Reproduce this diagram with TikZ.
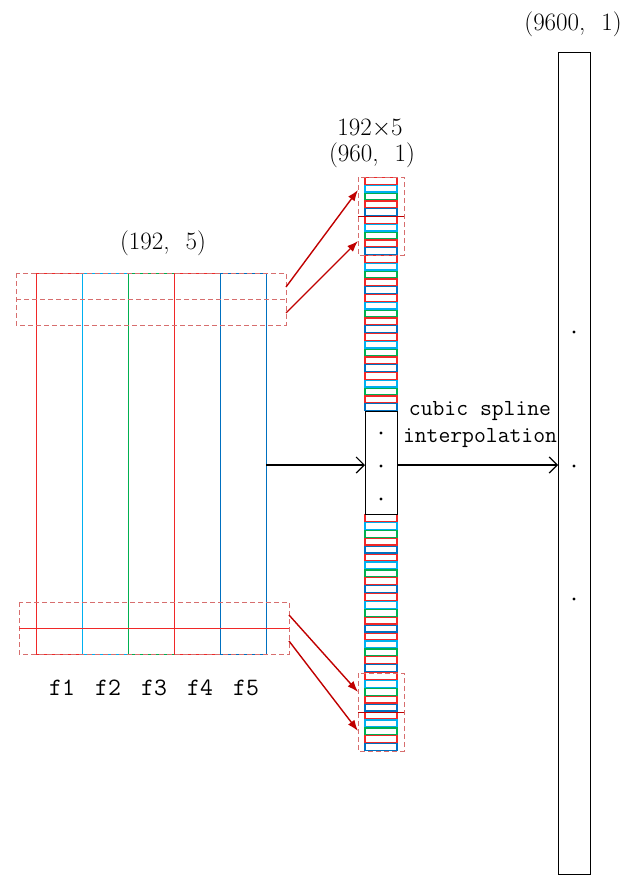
\documentclass[tikz,border=0pt]{standalone}
\usepackage{fontspec}
\usetikzlibrary{arrows.meta}
\definecolor{cred}{RGB}{240,40,40}
\definecolor{ccyan}{RGB}{0,176,240}
\definecolor{cgreen}{RGB}{0,176,80}
\definecolor{cblue}{RGB}{0,112,192}
\definecolor{dashred}{RGB}{215,110,110}
\definecolor{arrred}{RGB}{192,0,0}
\tikzset{
  thin line/.style={line width=1pt},
  cell line/.style={line width=1.2pt},
  dashbox/.style={draw=dashred, line width=1pt, dash pattern=on 5pt off 3pt},
  redarrow/.style={draw=arrred, line width=1.4pt, -{Latex[length=11pt,width=8pt]}},
  blackarrow/.style={draw=black, line width=1.2pt, -{Straight Barb[length=8pt,width=16pt]}},
  lbl/.style={font=\fontsize{25}{28}\selectfont, inner sep=0pt},
  mlbl/.style={font=\ttfamily\fontsize{23}{26}\selectfont, inner sep=0pt},
  flbl/.style={font=\ttfamily\fontsize{25}{28}\selectfont, inner sep=0pt},
  dotmark/.style={fill=black, draw=none}
}
\begin{document}
\begin{tikzpicture}[x=1pt,y=-1pt]
\useasboundingbox (0,0) rectangle (625,875);
% ---------- left matrix ----------
\foreach \c/\xx in {cred/36, ccyan/82, cgreen/128, cred/174, cblue/220}{
  \draw[\c, thin line] (\xx,273) rectangle ++(46,381);
}
\foreach \t/\xx in {f1/59, f2/105, f3/151, f4/197, f5/243}{
  \node[flbl] (lab\t) at (\xx+3,688) {\t};
}
\node[lbl] (lab192) at (163,243) {(192,\,\, 5)};
% dashed boxes on matrix
\draw[dashbox] (16,273) rectangle (286,325);
\draw[dashbox] (16,299) -- (286,299);
\draw[dashbox] (19,602) rectangle (289,654);
\draw[cred, thin line] (19,628) -- (289,628);
\coordinate (mt1) at (286,287);
\coordinate (mt2) at (286,313);
\coordinate (mb1) at (289,615);
\coordinate (mb2) at (289,641);
\coordinate (mmid) at (266,465);
% ---------- middle column ----------
\foreach \i in {0,...,29}{
  \pgfmathtruncatemacro{\m}{mod(\i,5)}
  \ifcase\m \def\cc{cred}\or \def\cc{ccyan}\or \def\cc{cgreen}\or \def\cc{cred}\or \def\cc{cblue}\fi
  \draw[\cc, cell line] (365,177+\i*7.8+0.6) rectangle (397,177+\i*7.8+7.2);
  \draw[\cc, cell line] (365,514+\i*7.9+0.6) rectangle (397,514+\i*7.9+7.3);
}
\draw[black, thin line] (365,411) rectangle (397,514);
\foreach \yy in {433,466,499}{ \fill[dotmark] (381,\yy) circle (1.7); }
\node[lbl] (lab192x5) at (370,128) {192$\times$5};
\node[lbl] (lab960) at (372,155) {(960,\,\, 1)};
% dashed boxes on column
\draw[dashbox] (358,177) rectangle (404,255);
\draw[arrred, thin line] (358,216) -- (404,216);
\draw[dashbox] (358,673) rectangle (404,751);
\draw[arrred, thin line] (358,712) -- (404,712);
\coordinate (ct1) at (358,190);
\coordinate (ct2) at (358,241);
\coordinate (cb1) at (358,692);
\coordinate (cb2) at (358,731);
\coordinate (cin) at (365,465);
\coordinate (cout) at (397,465);
% ---------- right column ----------
\draw[black, thin line] (558,53) rectangle (590,874);
\foreach \yy in {332,466,599}{ \fill[dotmark] (574,\yy) circle (1.7); }
\node[lbl] (lab9600) at (573,24) {(9600,\,\, 1)};
\coordinate (rin) at (558,465);
% ---------- arrows ----------
\draw[redarrow] (mt1) -- (ct1);
\draw[redarrow] (mt2) -- (ct2);
\draw[redarrow] (mb1) -- (cb1);
\draw[redarrow] (mb2) -- (cb2);
\draw[blackarrow] (mmid) -- (cin);
\draw[blackarrow] (cout) -- (rin);
\node[mlbl] (cubic) at (480,411) {cubic spline};
\node[mlbl] (interp) at (480,438) {interpolation};
\end{tikzpicture}
\end{document}
